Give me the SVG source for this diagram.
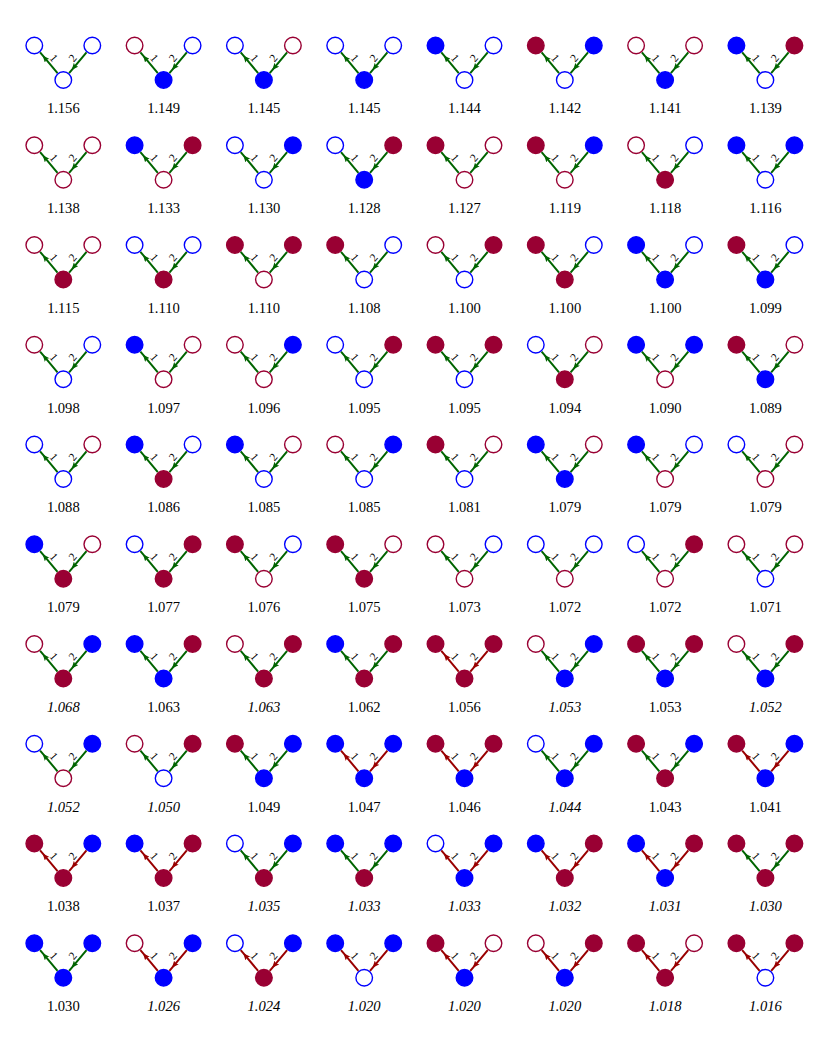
<svg xmlns="http://www.w3.org/2000/svg" xmlns:xlink="http://www.w3.org/1999/xlink" width="830" height="1037" viewBox="0 0 830 1037">
<style>
.fb{fill:#0000ff;stroke:#0000ff;stroke-width:1.4}
.ob{fill:#ffffff;stroke:#0000ff;stroke-width:1.4}
.fr{fill:#990033;stroke:#990033;stroke-width:1.4}
.or{fill:#ffffff;stroke:#990033;stroke-width:1.4}
.v{font-family:"Liberation Serif","DejaVu Serif",serif;font-size:14.6px;fill:#000;text-anchor:middle}
.i{font-style:italic}
.eg path{fill:none;stroke:#006400;stroke-width:2;marker-mid:url(#ag)}
.er path{fill:none;stroke:#990000;stroke-width:2;marker-mid:url(#ar)}
.l{font-family:"Liberation Serif","DejaVu Serif",serif;font-size:11.5px;fill:#000;text-anchor:middle;dominant-baseline:central}
.l1{transform:translate(-9.3px,-22px) rotate(49.95deg)}
.l2{transform:translate(9.3px,-22px) rotate(-49.95deg)}
</style>
<defs>
<marker id="ag" viewBox="0 0 7 6" refX="7" refY="3" markerWidth="7" markerHeight="6" markerUnits="userSpaceOnUse" orient="auto"><path d="M0,0 L7,3 L0,6 L1.5,3 Z" fill="#006400"/></marker>
<marker id="ar" viewBox="0 0 7 6" refX="7" refY="3" markerWidth="7" markerHeight="6" markerUnits="userSpaceOnUse" orient="auto"><path d="M0,0 L7,3 L0,6 L1.5,3 Z" fill="#990000"/></marker>
<g id="EG" class="eg"><path d="M-5.79,-6.89 L-20.64,-24.55 L-23.21,-27.61"/><path d="M23.21,-27.61 L8.36,-9.95 L5.79,-6.89"/></g>
<g id="ER" class="er"><path d="M-5.79,-6.89 L-20.64,-24.55 L-23.21,-27.61"/><path d="M23.21,-27.61 L8.36,-9.95 L5.79,-6.89"/></g>
</defs>
<rect width="830" height="1037" fill="#ffffff"/>
<g id="connectors">
<g transform="translate(63.3,80)"><use href="#EG"/><text class="l l1">1</text><text class="l l2">2</text></g>
<g transform="translate(163.6,80)"><use href="#EG"/><text class="l l1">1</text><text class="l l2">2</text></g>
<g transform="translate(263.9,80)"><use href="#EG"/><text class="l l1">1</text><text class="l l2">2</text></g>
<g transform="translate(364.2,80)"><use href="#EG"/><text class="l l1">1</text><text class="l l2">2</text></g>
<g transform="translate(464.5,80)"><use href="#EG"/><text class="l l1">1</text><text class="l l2">2</text></g>
<g transform="translate(564.8,80)"><use href="#EG"/><text class="l l1">1</text><text class="l l2">2</text></g>
<g transform="translate(665.1,80)"><use href="#EG"/><text class="l l1">1</text><text class="l l2">2</text></g>
<g transform="translate(765.4,80)"><use href="#EG"/><text class="l l1">1</text><text class="l l2">2</text></g>
<g transform="translate(63.3,179.75)"><use href="#EG"/><text class="l l1">1</text><text class="l l2">2</text></g>
<g transform="translate(163.6,179.75)"><use href="#EG"/><text class="l l1">1</text><text class="l l2">2</text></g>
<g transform="translate(263.9,179.75)"><use href="#EG"/><text class="l l1">1</text><text class="l l2">2</text></g>
<g transform="translate(364.2,179.75)"><use href="#EG"/><text class="l l1">1</text><text class="l l2">2</text></g>
<g transform="translate(464.5,179.75)"><use href="#EG"/><text class="l l1">1</text><text class="l l2">2</text></g>
<g transform="translate(564.8,179.75)"><use href="#EG"/><text class="l l1">1</text><text class="l l2">2</text></g>
<g transform="translate(665.1,179.75)"><use href="#EG"/><text class="l l1">1</text><text class="l l2">2</text></g>
<g transform="translate(765.4,179.75)"><use href="#EG"/><text class="l l1">1</text><text class="l l2">2</text></g>
<g transform="translate(63.3,279.5)"><use href="#EG"/><text class="l l1">1</text><text class="l l2">2</text></g>
<g transform="translate(163.6,279.5)"><use href="#EG"/><text class="l l1">1</text><text class="l l2">2</text></g>
<g transform="translate(263.9,279.5)"><use href="#EG"/><text class="l l1">1</text><text class="l l2">2</text></g>
<g transform="translate(364.2,279.5)"><use href="#EG"/><text class="l l1">1</text><text class="l l2">2</text></g>
<g transform="translate(464.5,279.5)"><use href="#EG"/><text class="l l1">1</text><text class="l l2">2</text></g>
<g transform="translate(564.8,279.5)"><use href="#EG"/><text class="l l1">1</text><text class="l l2">2</text></g>
<g transform="translate(665.1,279.5)"><use href="#EG"/><text class="l l1">1</text><text class="l l2">2</text></g>
<g transform="translate(765.4,279.5)"><use href="#EG"/><text class="l l1">1</text><text class="l l2">2</text></g>
<g transform="translate(63.3,379.25)"><use href="#EG"/><text class="l l1">1</text><text class="l l2">2</text></g>
<g transform="translate(163.6,379.25)"><use href="#EG"/><text class="l l1">1</text><text class="l l2">2</text></g>
<g transform="translate(263.9,379.25)"><use href="#EG"/><text class="l l1">1</text><text class="l l2">2</text></g>
<g transform="translate(364.2,379.25)"><use href="#EG"/><text class="l l1">1</text><text class="l l2">2</text></g>
<g transform="translate(464.5,379.25)"><use href="#EG"/><text class="l l1">1</text><text class="l l2">2</text></g>
<g transform="translate(564.8,379.25)"><use href="#EG"/><text class="l l1">1</text><text class="l l2">2</text></g>
<g transform="translate(665.1,379.25)"><use href="#EG"/><text class="l l1">1</text><text class="l l2">2</text></g>
<g transform="translate(765.4,379.25)"><use href="#EG"/><text class="l l1">1</text><text class="l l2">2</text></g>
<g transform="translate(63.3,479)"><use href="#EG"/><text class="l l1">1</text><text class="l l2">2</text></g>
<g transform="translate(163.6,479)"><use href="#EG"/><text class="l l1">1</text><text class="l l2">2</text></g>
<g transform="translate(263.9,479)"><use href="#EG"/><text class="l l1">1</text><text class="l l2">2</text></g>
<g transform="translate(364.2,479)"><use href="#EG"/><text class="l l1">1</text><text class="l l2">2</text></g>
<g transform="translate(464.5,479)"><use href="#EG"/><text class="l l1">1</text><text class="l l2">2</text></g>
<g transform="translate(564.8,479)"><use href="#EG"/><text class="l l1">1</text><text class="l l2">2</text></g>
<g transform="translate(665.1,479)"><use href="#EG"/><text class="l l1">1</text><text class="l l2">2</text></g>
<g transform="translate(765.4,479)"><use href="#EG"/><text class="l l1">1</text><text class="l l2">2</text></g>
<g transform="translate(63.3,578.75)"><use href="#EG"/><text class="l l1">1</text><text class="l l2">2</text></g>
<g transform="translate(163.6,578.75)"><use href="#EG"/><text class="l l1">1</text><text class="l l2">2</text></g>
<g transform="translate(263.9,578.75)"><use href="#EG"/><text class="l l1">1</text><text class="l l2">2</text></g>
<g transform="translate(364.2,578.75)"><use href="#EG"/><text class="l l1">1</text><text class="l l2">2</text></g>
<g transform="translate(464.5,578.75)"><use href="#EG"/><text class="l l1">1</text><text class="l l2">2</text></g>
<g transform="translate(564.8,578.75)"><use href="#EG"/><text class="l l1">1</text><text class="l l2">2</text></g>
<g transform="translate(665.1,578.75)"><use href="#EG"/><text class="l l1">1</text><text class="l l2">2</text></g>
<g transform="translate(765.4,578.75)"><use href="#EG"/><text class="l l1">1</text><text class="l l2">2</text></g>
<g transform="translate(63.3,678.5)"><use href="#EG"/><text class="l l1">1</text><text class="l l2">2</text></g>
<g transform="translate(163.6,678.5)"><use href="#EG"/><text class="l l1">1</text><text class="l l2">2</text></g>
<g transform="translate(263.9,678.5)"><use href="#EG"/><text class="l l1">1</text><text class="l l2">2</text></g>
<g transform="translate(364.2,678.5)"><use href="#EG"/><text class="l l1">1</text><text class="l l2">2</text></g>
<g transform="translate(464.5,678.5)"><use href="#ER"/><text class="l l1">1</text><text class="l l2">2</text></g>
<g transform="translate(564.8,678.5)"><use href="#EG"/><text class="l l1">1</text><text class="l l2">2</text></g>
<g transform="translate(665.1,678.5)"><use href="#EG"/><text class="l l1">1</text><text class="l l2">2</text></g>
<g transform="translate(765.4,678.5)"><use href="#EG"/><text class="l l1">1</text><text class="l l2">2</text></g>
<g transform="translate(63.3,778.25)"><use href="#EG"/><text class="l l1">1</text><text class="l l2">2</text></g>
<g transform="translate(163.6,778.25)"><use href="#EG"/><text class="l l1">1</text><text class="l l2">2</text></g>
<g transform="translate(263.9,778.25)"><use href="#EG"/><text class="l l1">1</text><text class="l l2">2</text></g>
<g transform="translate(364.2,778.25)"><use href="#ER"/><text class="l l1">1</text><text class="l l2">2</text></g>
<g transform="translate(464.5,778.25)"><use href="#ER"/><text class="l l1">1</text><text class="l l2">2</text></g>
<g transform="translate(564.8,778.25)"><use href="#EG"/><text class="l l1">1</text><text class="l l2">2</text></g>
<g transform="translate(665.1,778.25)"><use href="#EG"/><text class="l l1">1</text><text class="l l2">2</text></g>
<g transform="translate(765.4,778.25)"><use href="#ER"/><text class="l l1">1</text><text class="l l2">2</text></g>
<g transform="translate(63.3,878)"><use href="#ER"/><text class="l l1">1</text><text class="l l2">2</text></g>
<g transform="translate(163.6,878)"><use href="#ER"/><text class="l l1">1</text><text class="l l2">2</text></g>
<g transform="translate(263.9,878)"><use href="#EG"/><text class="l l1">1</text><text class="l l2">2</text></g>
<g transform="translate(364.2,878)"><use href="#EG"/><text class="l l1">1</text><text class="l l2">2</text></g>
<g transform="translate(464.5,878)"><use href="#ER"/><text class="l l1">1</text><text class="l l2">2</text></g>
<g transform="translate(564.8,878)"><use href="#ER"/><text class="l l1">1</text><text class="l l2">2</text></g>
<g transform="translate(665.1,878)"><use href="#ER"/><text class="l l1">1</text><text class="l l2">2</text></g>
<g transform="translate(765.4,878)"><use href="#EG"/><text class="l l1">1</text><text class="l l2">2</text></g>
<g transform="translate(63.3,977.75)"><use href="#EG"/><text class="l l1">1</text><text class="l l2">2</text></g>
<g transform="translate(163.6,977.75)"><use href="#ER"/><text class="l l1">1</text><text class="l l2">2</text></g>
<g transform="translate(263.9,977.75)"><use href="#ER"/><text class="l l1">1</text><text class="l l2">2</text></g>
<g transform="translate(364.2,977.75)"><use href="#ER"/><text class="l l1">1</text><text class="l l2">2</text></g>
<g transform="translate(464.5,977.75)"><use href="#ER"/><text class="l l1">1</text><text class="l l2">2</text></g>
<g transform="translate(564.8,977.75)"><use href="#ER"/><text class="l l1">1</text><text class="l l2">2</text></g>
<g transform="translate(665.1,977.75)"><use href="#ER"/><text class="l l1">1</text><text class="l l2">2</text></g>
<g transform="translate(765.4,977.75)"><use href="#ER"/><text class="l l1">1</text><text class="l l2">2</text></g>
</g>
<g id="nodes">
<g id="r1c1" transform="translate(63.3,80)"><circle class="ob" cx="-29" cy="-34.5" r="8.3"/><circle class="ob" cx="29" cy="-34.5" r="8.3"/><circle class="ob" r="8.3"/><text class="v" y="33.3">1.156</text></g>
<g id="r1c2" transform="translate(163.6,80)"><circle class="or" cx="-29" cy="-34.5" r="8.3"/><circle class="ob" cx="29" cy="-34.5" r="8.3"/><circle class="fb" r="8.3"/><text class="v" y="33.3">1.149</text></g>
<g id="r1c3" transform="translate(263.9,80)"><circle class="ob" cx="-29" cy="-34.5" r="8.3"/><circle class="or" cx="29" cy="-34.5" r="8.3"/><circle class="fb" r="8.3"/><text class="v" y="33.3">1.145</text></g>
<g id="r1c4" transform="translate(364.2,80)"><circle class="ob" cx="-29" cy="-34.5" r="8.3"/><circle class="ob" cx="29" cy="-34.5" r="8.3"/><circle class="fb" r="8.3"/><text class="v" y="33.3">1.145</text></g>
<g id="r1c5" transform="translate(464.5,80)"><circle class="fb" cx="-29" cy="-34.5" r="8.3"/><circle class="ob" cx="29" cy="-34.5" r="8.3"/><circle class="ob" r="8.3"/><text class="v" y="33.3">1.144</text></g>
<g id="r1c6" transform="translate(564.8,80)"><circle class="fr" cx="-29" cy="-34.5" r="8.3"/><circle class="fb" cx="29" cy="-34.5" r="8.3"/><circle class="ob" r="8.3"/><text class="v" y="33.3">1.142</text></g>
<g id="r1c7" transform="translate(665.1,80)"><circle class="or" cx="-29" cy="-34.5" r="8.3"/><circle class="or" cx="29" cy="-34.5" r="8.3"/><circle class="fb" r="8.3"/><text class="v" y="33.3">1.141</text></g>
<g id="r1c8" transform="translate(765.4,80)"><circle class="fb" cx="-29" cy="-34.5" r="8.3"/><circle class="fr" cx="29" cy="-34.5" r="8.3"/><circle class="ob" r="8.3"/><text class="v" y="33.3">1.139</text></g>
<g id="r2c1" transform="translate(63.3,179.75)"><circle class="or" cx="-29" cy="-34.5" r="8.3"/><circle class="or" cx="29" cy="-34.5" r="8.3"/><circle class="or" r="8.3"/><text class="v" y="33.3">1.138</text></g>
<g id="r2c2" transform="translate(163.6,179.75)"><circle class="fb" cx="-29" cy="-34.5" r="8.3"/><circle class="fr" cx="29" cy="-34.5" r="8.3"/><circle class="or" r="8.3"/><text class="v" y="33.3">1.133</text></g>
<g id="r2c3" transform="translate(263.9,179.75)"><circle class="ob" cx="-29" cy="-34.5" r="8.3"/><circle class="fb" cx="29" cy="-34.5" r="8.3"/><circle class="ob" r="8.3"/><text class="v" y="33.3">1.130</text></g>
<g id="r2c4" transform="translate(364.2,179.75)"><circle class="ob" cx="-29" cy="-34.5" r="8.3"/><circle class="fr" cx="29" cy="-34.5" r="8.3"/><circle class="fb" r="8.3"/><text class="v" y="33.3">1.128</text></g>
<g id="r2c5" transform="translate(464.5,179.75)"><circle class="fr" cx="-29" cy="-34.5" r="8.3"/><circle class="or" cx="29" cy="-34.5" r="8.3"/><circle class="or" r="8.3"/><text class="v" y="33.3">1.127</text></g>
<g id="r2c6" transform="translate(564.8,179.75)"><circle class="fr" cx="-29" cy="-34.5" r="8.3"/><circle class="fb" cx="29" cy="-34.5" r="8.3"/><circle class="or" r="8.3"/><text class="v" y="33.3">1.119</text></g>
<g id="r2c7" transform="translate(665.1,179.75)"><circle class="or" cx="-29" cy="-34.5" r="8.3"/><circle class="ob" cx="29" cy="-34.5" r="8.3"/><circle class="fr" r="8.3"/><text class="v" y="33.3">1.118</text></g>
<g id="r2c8" transform="translate(765.4,179.75)"><circle class="fb" cx="-29" cy="-34.5" r="8.3"/><circle class="fb" cx="29" cy="-34.5" r="8.3"/><circle class="ob" r="8.3"/><text class="v" y="33.3">1.116</text></g>
<g id="r3c1" transform="translate(63.3,279.5)"><circle class="or" cx="-29" cy="-34.5" r="8.3"/><circle class="or" cx="29" cy="-34.5" r="8.3"/><circle class="fr" r="8.3"/><text class="v" y="33.3">1.115</text></g>
<g id="r3c2" transform="translate(163.6,279.5)"><circle class="ob" cx="-29" cy="-34.5" r="8.3"/><circle class="ob" cx="29" cy="-34.5" r="8.3"/><circle class="fr" r="8.3"/><text class="v" y="33.3">1.110</text></g>
<g id="r3c3" transform="translate(263.9,279.5)"><circle class="fr" cx="-29" cy="-34.5" r="8.3"/><circle class="fr" cx="29" cy="-34.5" r="8.3"/><circle class="or" r="8.3"/><text class="v" y="33.3">1.110</text></g>
<g id="r3c4" transform="translate(364.2,279.5)"><circle class="fr" cx="-29" cy="-34.5" r="8.3"/><circle class="ob" cx="29" cy="-34.5" r="8.3"/><circle class="ob" r="8.3"/><text class="v" y="33.3">1.108</text></g>
<g id="r3c5" transform="translate(464.5,279.5)"><circle class="or" cx="-29" cy="-34.5" r="8.3"/><circle class="fr" cx="29" cy="-34.5" r="8.3"/><circle class="ob" r="8.3"/><text class="v" y="33.3">1.100</text></g>
<g id="r3c6" transform="translate(564.8,279.5)"><circle class="fr" cx="-29" cy="-34.5" r="8.3"/><circle class="ob" cx="29" cy="-34.5" r="8.3"/><circle class="fr" r="8.3"/><text class="v" y="33.3">1.100</text></g>
<g id="r3c7" transform="translate(665.1,279.5)"><circle class="fb" cx="-29" cy="-34.5" r="8.3"/><circle class="ob" cx="29" cy="-34.5" r="8.3"/><circle class="fb" r="8.3"/><text class="v" y="33.3">1.100</text></g>
<g id="r3c8" transform="translate(765.4,279.5)"><circle class="fr" cx="-29" cy="-34.5" r="8.3"/><circle class="ob" cx="29" cy="-34.5" r="8.3"/><circle class="fb" r="8.3"/><text class="v" y="33.3">1.099</text></g>
<g id="r4c1" transform="translate(63.3,379.25)"><circle class="or" cx="-29" cy="-34.5" r="8.3"/><circle class="ob" cx="29" cy="-34.5" r="8.3"/><circle class="ob" r="8.3"/><text class="v" y="33.3">1.098</text></g>
<g id="r4c2" transform="translate(163.6,379.25)"><circle class="fb" cx="-29" cy="-34.5" r="8.3"/><circle class="or" cx="29" cy="-34.5" r="8.3"/><circle class="or" r="8.3"/><text class="v" y="33.3">1.097</text></g>
<g id="r4c3" transform="translate(263.9,379.25)"><circle class="or" cx="-29" cy="-34.5" r="8.3"/><circle class="fb" cx="29" cy="-34.5" r="8.3"/><circle class="or" r="8.3"/><text class="v" y="33.3">1.096</text></g>
<g id="r4c4" transform="translate(364.2,379.25)"><circle class="ob" cx="-29" cy="-34.5" r="8.3"/><circle class="fr" cx="29" cy="-34.5" r="8.3"/><circle class="ob" r="8.3"/><text class="v" y="33.3">1.095</text></g>
<g id="r4c5" transform="translate(464.5,379.25)"><circle class="fr" cx="-29" cy="-34.5" r="8.3"/><circle class="fr" cx="29" cy="-34.5" r="8.3"/><circle class="ob" r="8.3"/><text class="v" y="33.3">1.095</text></g>
<g id="r4c6" transform="translate(564.8,379.25)"><circle class="ob" cx="-29" cy="-34.5" r="8.3"/><circle class="or" cx="29" cy="-34.5" r="8.3"/><circle class="fr" r="8.3"/><text class="v" y="33.3">1.094</text></g>
<g id="r4c7" transform="translate(665.1,379.25)"><circle class="fb" cx="-29" cy="-34.5" r="8.3"/><circle class="fb" cx="29" cy="-34.5" r="8.3"/><circle class="or" r="8.3"/><text class="v" y="33.3">1.090</text></g>
<g id="r4c8" transform="translate(765.4,379.25)"><circle class="fr" cx="-29" cy="-34.5" r="8.3"/><circle class="or" cx="29" cy="-34.5" r="8.3"/><circle class="fb" r="8.3"/><text class="v" y="33.3">1.089</text></g>
<g id="r5c1" transform="translate(63.3,479)"><circle class="ob" cx="-29" cy="-34.5" r="8.3"/><circle class="or" cx="29" cy="-34.5" r="8.3"/><circle class="ob" r="8.3"/><text class="v" y="33.3">1.088</text></g>
<g id="r5c2" transform="translate(163.6,479)"><circle class="fb" cx="-29" cy="-34.5" r="8.3"/><circle class="ob" cx="29" cy="-34.5" r="8.3"/><circle class="fr" r="8.3"/><text class="v" y="33.3">1.086</text></g>
<g id="r5c3" transform="translate(263.9,479)"><circle class="fb" cx="-29" cy="-34.5" r="8.3"/><circle class="or" cx="29" cy="-34.5" r="8.3"/><circle class="ob" r="8.3"/><text class="v" y="33.3">1.085</text></g>
<g id="r5c4" transform="translate(364.2,479)"><circle class="or" cx="-29" cy="-34.5" r="8.3"/><circle class="fb" cx="29" cy="-34.5" r="8.3"/><circle class="ob" r="8.3"/><text class="v" y="33.3">1.085</text></g>
<g id="r5c5" transform="translate(464.5,479)"><circle class="fr" cx="-29" cy="-34.5" r="8.3"/><circle class="or" cx="29" cy="-34.5" r="8.3"/><circle class="ob" r="8.3"/><text class="v" y="33.3">1.081</text></g>
<g id="r5c6" transform="translate(564.8,479)"><circle class="fb" cx="-29" cy="-34.5" r="8.3"/><circle class="or" cx="29" cy="-34.5" r="8.3"/><circle class="fb" r="8.3"/><text class="v" y="33.3">1.079</text></g>
<g id="r5c7" transform="translate(665.1,479)"><circle class="fb" cx="-29" cy="-34.5" r="8.3"/><circle class="ob" cx="29" cy="-34.5" r="8.3"/><circle class="or" r="8.3"/><text class="v" y="33.3">1.079</text></g>
<g id="r5c8" transform="translate(765.4,479)"><circle class="ob" cx="-29" cy="-34.5" r="8.3"/><circle class="or" cx="29" cy="-34.5" r="8.3"/><circle class="or" r="8.3"/><text class="v" y="33.3">1.079</text></g>
<g id="r6c1" transform="translate(63.3,578.75)"><circle class="fb" cx="-29" cy="-34.5" r="8.3"/><circle class="or" cx="29" cy="-34.5" r="8.3"/><circle class="fr" r="8.3"/><text class="v" y="33.3">1.079</text></g>
<g id="r6c2" transform="translate(163.6,578.75)"><circle class="ob" cx="-29" cy="-34.5" r="8.3"/><circle class="fr" cx="29" cy="-34.5" r="8.3"/><circle class="fr" r="8.3"/><text class="v" y="33.3">1.077</text></g>
<g id="r6c3" transform="translate(263.9,578.75)"><circle class="fr" cx="-29" cy="-34.5" r="8.3"/><circle class="ob" cx="29" cy="-34.5" r="8.3"/><circle class="or" r="8.3"/><text class="v" y="33.3">1.076</text></g>
<g id="r6c4" transform="translate(364.2,578.75)"><circle class="fr" cx="-29" cy="-34.5" r="8.3"/><circle class="or" cx="29" cy="-34.5" r="8.3"/><circle class="fr" r="8.3"/><text class="v" y="33.3">1.075</text></g>
<g id="r6c5" transform="translate(464.5,578.75)"><circle class="or" cx="-29" cy="-34.5" r="8.3"/><circle class="ob" cx="29" cy="-34.5" r="8.3"/><circle class="or" r="8.3"/><text class="v" y="33.3">1.073</text></g>
<g id="r6c6" transform="translate(564.8,578.75)"><circle class="ob" cx="-29" cy="-34.5" r="8.3"/><circle class="ob" cx="29" cy="-34.5" r="8.3"/><circle class="or" r="8.3"/><text class="v" y="33.3">1.072</text></g>
<g id="r6c7" transform="translate(665.1,578.75)"><circle class="ob" cx="-29" cy="-34.5" r="8.3"/><circle class="fr" cx="29" cy="-34.5" r="8.3"/><circle class="or" r="8.3"/><text class="v" y="33.3">1.072</text></g>
<g id="r6c8" transform="translate(765.4,578.75)"><circle class="or" cx="-29" cy="-34.5" r="8.3"/><circle class="or" cx="29" cy="-34.5" r="8.3"/><circle class="ob" r="8.3"/><text class="v" y="33.3">1.071</text></g>
<g id="r7c1" transform="translate(63.3,678.5)"><circle class="or" cx="-29" cy="-34.5" r="8.3"/><circle class="fb" cx="29" cy="-34.5" r="8.3"/><circle class="fr" r="8.3"/><text class="v i" y="33.3">1.068</text></g>
<g id="r7c2" transform="translate(163.6,678.5)"><circle class="fb" cx="-29" cy="-34.5" r="8.3"/><circle class="fr" cx="29" cy="-34.5" r="8.3"/><circle class="fb" r="8.3"/><text class="v" y="33.3">1.063</text></g>
<g id="r7c3" transform="translate(263.9,678.5)"><circle class="or" cx="-29" cy="-34.5" r="8.3"/><circle class="fr" cx="29" cy="-34.5" r="8.3"/><circle class="fr" r="8.3"/><text class="v i" y="33.3">1.063</text></g>
<g id="r7c4" transform="translate(364.2,678.5)"><circle class="fb" cx="-29" cy="-34.5" r="8.3"/><circle class="fr" cx="29" cy="-34.5" r="8.3"/><circle class="fr" r="8.3"/><text class="v" y="33.3">1.062</text></g>
<g id="r7c5" transform="translate(464.5,678.5)"><circle class="fr" cx="-29" cy="-34.5" r="8.3"/><circle class="fr" cx="29" cy="-34.5" r="8.3"/><circle class="fr" r="8.3"/><text class="v" y="33.3">1.056</text></g>
<g id="r7c6" transform="translate(564.8,678.5)"><circle class="or" cx="-29" cy="-34.5" r="8.3"/><circle class="fb" cx="29" cy="-34.5" r="8.3"/><circle class="fb" r="8.3"/><text class="v i" y="33.3">1.053</text></g>
<g id="r7c7" transform="translate(665.1,678.5)"><circle class="fr" cx="-29" cy="-34.5" r="8.3"/><circle class="fr" cx="29" cy="-34.5" r="8.3"/><circle class="fb" r="8.3"/><text class="v" y="33.3">1.053</text></g>
<g id="r7c8" transform="translate(765.4,678.5)"><circle class="or" cx="-29" cy="-34.5" r="8.3"/><circle class="fr" cx="29" cy="-34.5" r="8.3"/><circle class="fb" r="8.3"/><text class="v i" y="33.3">1.052</text></g>
<g id="r8c1" transform="translate(63.3,778.25)"><circle class="ob" cx="-29" cy="-34.5" r="8.3"/><circle class="fb" cx="29" cy="-34.5" r="8.3"/><circle class="or" r="8.3"/><text class="v i" y="33.3">1.052</text></g>
<g id="r8c2" transform="translate(163.6,778.25)"><circle class="or" cx="-29" cy="-34.5" r="8.3"/><circle class="fr" cx="29" cy="-34.5" r="8.3"/><circle class="ob" r="8.3"/><text class="v i" y="33.3">1.050</text></g>
<g id="r8c3" transform="translate(263.9,778.25)"><circle class="fr" cx="-29" cy="-34.5" r="8.3"/><circle class="fb" cx="29" cy="-34.5" r="8.3"/><circle class="fb" r="8.3"/><text class="v" y="33.3">1.049</text></g>
<g id="r8c4" transform="translate(364.2,778.25)"><circle class="fb" cx="-29" cy="-34.5" r="8.3"/><circle class="fb" cx="29" cy="-34.5" r="8.3"/><circle class="fb" r="8.3"/><text class="v" y="33.3">1.047</text></g>
<g id="r8c5" transform="translate(464.5,778.25)"><circle class="fr" cx="-29" cy="-34.5" r="8.3"/><circle class="fr" cx="29" cy="-34.5" r="8.3"/><circle class="fb" r="8.3"/><text class="v" y="33.3">1.046</text></g>
<g id="r8c6" transform="translate(564.8,778.25)"><circle class="ob" cx="-29" cy="-34.5" r="8.3"/><circle class="fb" cx="29" cy="-34.5" r="8.3"/><circle class="fb" r="8.3"/><text class="v i" y="33.3">1.044</text></g>
<g id="r8c7" transform="translate(665.1,778.25)"><circle class="fr" cx="-29" cy="-34.5" r="8.3"/><circle class="fb" cx="29" cy="-34.5" r="8.3"/><circle class="fr" r="8.3"/><text class="v" y="33.3">1.043</text></g>
<g id="r8c8" transform="translate(765.4,778.25)"><circle class="fr" cx="-29" cy="-34.5" r="8.3"/><circle class="fb" cx="29" cy="-34.5" r="8.3"/><circle class="fb" r="8.3"/><text class="v" y="33.3">1.041</text></g>
<g id="r9c1" transform="translate(63.3,878)"><circle class="fr" cx="-29" cy="-34.5" r="8.3"/><circle class="fb" cx="29" cy="-34.5" r="8.3"/><circle class="fr" r="8.3"/><text class="v" y="33.3">1.038</text></g>
<g id="r9c2" transform="translate(163.6,878)"><circle class="fb" cx="-29" cy="-34.5" r="8.3"/><circle class="fr" cx="29" cy="-34.5" r="8.3"/><circle class="fr" r="8.3"/><text class="v" y="33.3">1.037</text></g>
<g id="r9c3" transform="translate(263.9,878)"><circle class="ob" cx="-29" cy="-34.5" r="8.3"/><circle class="fb" cx="29" cy="-34.5" r="8.3"/><circle class="fr" r="8.3"/><text class="v i" y="33.3">1.035</text></g>
<g id="r9c4" transform="translate(364.2,878)"><circle class="fb" cx="-29" cy="-34.5" r="8.3"/><circle class="fb" cx="29" cy="-34.5" r="8.3"/><circle class="fr" r="8.3"/><text class="v i" y="33.3">1.033</text></g>
<g id="r9c5" transform="translate(464.5,878)"><circle class="ob" cx="-29" cy="-34.5" r="8.3"/><circle class="fb" cx="29" cy="-34.5" r="8.3"/><circle class="fb" r="8.3"/><text class="v i" y="33.3">1.033</text></g>
<g id="r9c6" transform="translate(564.8,878)"><circle class="fb" cx="-29" cy="-34.5" r="8.3"/><circle class="fr" cx="29" cy="-34.5" r="8.3"/><circle class="fr" r="8.3"/><text class="v i" y="33.3">1.032</text></g>
<g id="r9c7" transform="translate(665.1,878)"><circle class="fb" cx="-29" cy="-34.5" r="8.3"/><circle class="fr" cx="29" cy="-34.5" r="8.3"/><circle class="fb" r="8.3"/><text class="v i" y="33.3">1.031</text></g>
<g id="r9c8" transform="translate(765.4,878)"><circle class="fr" cx="-29" cy="-34.5" r="8.3"/><circle class="fr" cx="29" cy="-34.5" r="8.3"/><circle class="fr" r="8.3"/><text class="v i" y="33.3">1.030</text></g>
<g id="r10c1" transform="translate(63.3,977.75)"><circle class="fb" cx="-29" cy="-34.5" r="8.3"/><circle class="fb" cx="29" cy="-34.5" r="8.3"/><circle class="fb" r="8.3"/><text class="v" y="33.3">1.030</text></g>
<g id="r10c2" transform="translate(163.6,977.75)"><circle class="or" cx="-29" cy="-34.5" r="8.3"/><circle class="fb" cx="29" cy="-34.5" r="8.3"/><circle class="fb" r="8.3"/><text class="v i" y="33.3">1.026</text></g>
<g id="r10c3" transform="translate(263.9,977.75)"><circle class="ob" cx="-29" cy="-34.5" r="8.3"/><circle class="fb" cx="29" cy="-34.5" r="8.3"/><circle class="fr" r="8.3"/><text class="v i" y="33.3">1.024</text></g>
<g id="r10c4" transform="translate(364.2,977.75)"><circle class="fb" cx="-29" cy="-34.5" r="8.3"/><circle class="fb" cx="29" cy="-34.5" r="8.3"/><circle class="ob" r="8.3"/><text class="v i" y="33.3">1.020</text></g>
<g id="r10c5" transform="translate(464.5,977.75)"><circle class="fr" cx="-29" cy="-34.5" r="8.3"/><circle class="or" cx="29" cy="-34.5" r="8.3"/><circle class="fb" r="8.3"/><text class="v i" y="33.3">1.020</text></g>
<g id="r10c6" transform="translate(564.8,977.75)"><circle class="or" cx="-29" cy="-34.5" r="8.3"/><circle class="fr" cx="29" cy="-34.5" r="8.3"/><circle class="fb" r="8.3"/><text class="v i" y="33.3">1.020</text></g>
<g id="r10c7" transform="translate(665.1,977.75)"><circle class="fr" cx="-29" cy="-34.5" r="8.3"/><circle class="or" cx="29" cy="-34.5" r="8.3"/><circle class="fr" r="8.3"/><text class="v i" y="33.3">1.018</text></g>
<g id="r10c8" transform="translate(765.4,977.75)"><circle class="fr" cx="-29" cy="-34.5" r="8.3"/><circle class="fr" cx="29" cy="-34.5" r="8.3"/><circle class="ob" r="8.3"/><text class="v i" y="33.3">1.016</text></g>
</g>
</svg>
